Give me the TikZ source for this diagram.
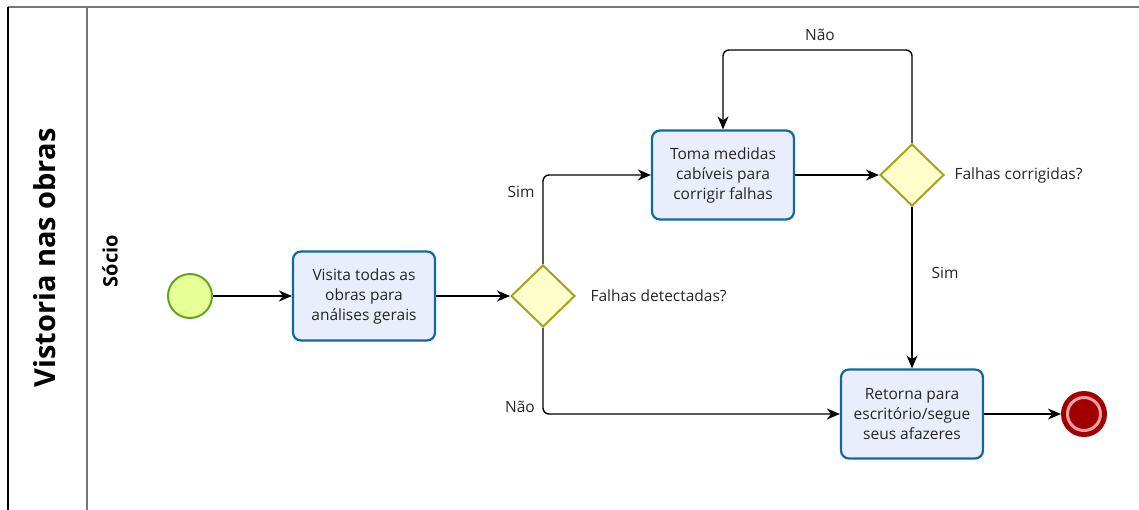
\documentclass[tikz,border=0pt]{standalone}
\usepackage{fontspec}
\setmainfont{Open Sans}
\usetikzlibrary{arrows.meta,positioning,shapes.geometric}
\definecolor{startfill}{HTML}{E6FF97}
\definecolor{startline}{HTML}{62A420}
\definecolor{taskfill}{HTML}{EAEEFC}
\definecolor{taskline}{HTML}{10699C}
\definecolor{gatefill}{HTML}{FFFFCC}
\definecolor{gateline}{HTML}{A3A31E}
\definecolor{endred}{HTML}{A20000}
\definecolor{endpink}{HTML}{EAA3A3}
\definecolor{laneline}{HTML}{777777}
\tikzset{
  task/.style={draw=taskline, fill=taskfill, line width=2.2pt, rounded corners=8pt,
               minimum width=142pt, minimum height=89pt, align=center,
               font=\fontsize{15.5}{20}\selectfont, text=black!85},
  gate/.style={diamond, draw=gateline, fill=gatefill, line width=2pt,
               minimum width=64pt, minimum height=62pt, inner sep=0pt},
  startev/.style={circle, draw=startline, fill=startfill, line width=2pt, minimum size=44pt},
  endev/.style={circle, draw=endred, fill=endred, line width=2pt, minimum size=44pt},
  flow/.style={-{Stealth[length=13pt,width=11pt,inset=4pt]}, line width=1.4pt, rounded corners=6pt},
  lbl/.style={font=\fontsize{15.5}{18}\selectfont, text=black!85}
}
\begin{document}
\begin{tikzpicture}[x=1pt,y=1pt]
  \useasboundingbox (0,0) rectangle (1139,-509);
  \clip (0,0) rectangle (1139,-509);
  % pool and lane
  \draw[laneline, line width=2pt] (8,-7) -- (1150,-7);
  \draw[black, line width=2pt] (8,-7) -- (8,-520);
  \draw[laneline, line width=2pt] (87,-7) -- (87,-520);
  \node[rotate=90, font=\fontsize{29}{33}\selectfont\bfseries] (pool) at (45,-258) {Vistoria nas obras};
  \node[rotate=90, font=\fontsize{20}{24}\selectfont\bfseries] (lane) at (110,-261) {Sócio};

  % elements
  \node[startev] (start) at (190,-296) {};
  \node[task] (t1) at (364,-296) {Visita todas as\\obras para\\análises gerais};
  \node[gate] (g1) at (543,-296) {};
  \node[task] (t2) at (723,-175) {Toma medidas\\cabíveis para\\corrigir falhas};
  \node[gate] (g2) at (912,-175) {};
  \node[task] (t3) at (912,-414) {Retorna para\\escritório/segue\\seus afazeres};
  \node[endev] (end) at (1084,-414) {};
  \draw[endpink, line width=3pt] (end.center) circle (16.5pt);
  \coordinate (loop) at (912,-50);

  \node[lbl, anchor=west] (q1) at (587,-296) {Falhas detectadas?};
  \node[lbl, anchor=west] (q2) at (951,-175) {Falhas corrigidas?};

  % flows
  \draw[flow] (start) -- (t1);
  \draw[flow] (t1) -- (g1);
  \draw[flow] (g1.north) |- (t2.west);
  \draw[flow] (g1.south) |- (t3.west);
  \draw[flow] (t2) -- (g2);
  \draw[flow] (g2.north) -- (loop) -| (t2.north);
  \draw[flow] (g2.south) -- (t3.north);
  \draw[flow] (t3) -- (end);

  \node[lbl] (sim1) at (521,-192) {Sim};
  \node[lbl] (nao1) at (520,-407) {Não};
  \node[lbl] (nao2) at (820,-35) {Não};
  \node[lbl] (sim2) at (945,-273) {Sim};
\end{tikzpicture}
\end{document}
